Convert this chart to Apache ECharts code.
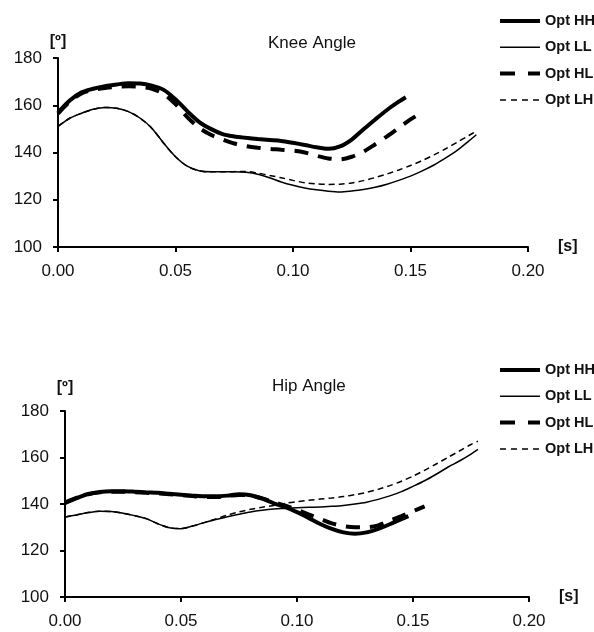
<!DOCTYPE html>
<html>
<head>
<meta charset="utf-8">
<script src="https://cdn.jsdelivr.net/npm/echarts@6/dist/echarts.min.js"></script>
<style>html,body{margin:0;padding:0;background:#fff;}#c{width:594px;height:632px;}</style>
</head>
<body>
<div id="c"></div>
<script>
// ---- Data (time [s], angle [deg]) ----
const seriesNames = ['Opt HH', 'Opt LL', 'Opt HL', 'Opt LH'];
const xTicks = [0, 0.05, 0.10, 0.15, 0.20];
const yTicks = [100, 120, 140, 160, 180];

const kneeHH = [[0,156.9],[0.005,162],[0.01,165.5],[0.015,167],[0.02,168.1],[0.025,168.8],[0.03,169.3],[0.035,169.2],[0.04,168.3],[0.045,166.5],[0.05,162.5],[0.055,157.5],[0.06,153],[0.065,150],[0.07,147.8],[0.075,146.8],[0.08,146.2],[0.085,145.7],[0.09,145.3],[0.095,144.9],[0.1,144.1],[0.105,143.2],[0.11,142.2],[0.115,141.6],[0.12,142.6],[0.125,145.5],[0.13,149.8],[0.135,154],[0.14,158],[0.145,161.5],[0.148,163.4]];
const kneeLL = [[0,151],[0.005,154.5],[0.01,156.6],[0.015,158.3],[0.02,159.1],[0.025,158.7],[0.03,157.3],[0.035,154.5],[0.04,150.2],[0.045,143.9],[0.05,138.2],[0.055,134.2],[0.06,132.3],[0.065,131.8],[0.07,131.8],[0.075,131.8],[0.08,131.6],[0.085,130.8],[0.09,129.3],[0.095,127.5],[0.1,126.1],[0.105,125],[0.11,124.2],[0.115,123.6],[0.12,123.3],[0.125,123.7],[0.13,124.3],[0.135,125.3],[0.14,126.6],[0.145,128.2],[0.15,130],[0.155,132.2],[0.16,134.7],[0.165,137.7],[0.17,141],[0.175,145],[0.178,147.5]];
const kneeHL = [[0,156.5],[0.005,161.5],[0.01,165],[0.015,166.5],[0.02,167.3],[0.025,167.8],[0.03,168],[0.035,167.8],[0.04,167],[0.045,164.8],[0.05,160.5],[0.055,155],[0.06,150.5],[0.065,147.5],[0.07,145.5],[0.075,143.8],[0.08,142.7],[0.085,142],[0.09,141.5],[0.095,141.2],[0.1,140.8],[0.105,140],[0.11,138.6],[0.115,137.5],[0.12,137.1],[0.125,138.2],[0.13,140.4],[0.135,143.5],[0.14,146.8],[0.145,150.4],[0.15,154],[0.155,157]];
const kneeLH = [[0,151],[0.005,154.5],[0.01,156.6],[0.015,158.3],[0.02,159.1],[0.025,158.7],[0.03,157.3],[0.035,154.5],[0.04,150.2],[0.045,143.9],[0.05,138.2],[0.055,134.2],[0.06,132.3],[0.065,131.8],[0.07,131.8],[0.075,131.9],[0.08,132],[0.085,131.3],[0.09,130.3],[0.095,129.3],[0.1,128.2],[0.105,127.2],[0.11,126.7],[0.115,126.5],[0.12,126.6],[0.125,127.1],[0.13,128.1],[0.135,129.4],[0.14,130.9],[0.145,132.6],[0.15,134.5],[0.155,136.6],[0.16,139],[0.165,141.6],[0.17,144.4],[0.175,147.3],[0.178,149]];

const hipHH = [[0,140.4],[0.005,142.5],[0.01,144.3],[0.015,145.2],[0.02,145.5],[0.025,145.5],[0.03,145.3],[0.035,145],[0.04,144.8],[0.045,144.4],[0.05,144],[0.055,143.6],[0.06,143.3],[0.065,143.3],[0.07,143.6],[0.075,144.2],[0.08,143.8],[0.085,142.3],[0.09,140.3],[0.095,138.6],[0.1,136.5],[0.105,134],[0.11,131.4],[0.115,129.3],[0.12,127.8],[0.125,127.2],[0.13,127.8],[0.135,129.3],[0.14,131.3],[0.145,133.5],[0.148,134.8]];
const hipLL = [[0,134.4],[0.005,135.3],[0.01,136.3],[0.015,136.9],[0.02,136.8],[0.025,136],[0.03,135],[0.035,133.7],[0.04,131.5],[0.045,129.8],[0.05,129.4],[0.055,130.5],[0.06,132],[0.065,133.3],[0.07,134.5],[0.075,135.6],[0.08,136.6],[0.085,137.3],[0.09,137.8],[0.095,138.1],[0.1,138.4],[0.105,138.6],[0.11,138.7],[0.115,139],[0.12,139.4],[0.125,140],[0.13,140.8],[0.135,142],[0.14,143.5],[0.145,145.3],[0.15,147.6],[0.155,150],[0.16,152.8],[0.165,155.8],[0.17,158.5],[0.175,161.5],[0.178,163.5]];
const hipHL = [[0,140.6],[0.005,142.6],[0.01,144.2],[0.015,145],[0.02,145.3],[0.025,145.3],[0.03,145.1],[0.035,144.8],[0.04,144.5],[0.045,144.2],[0.05,143.8],[0.055,143.4],[0.06,143],[0.065,143],[0.07,143.4],[0.075,143.9],[0.08,143.6],[0.085,142.4],[0.09,140.8],[0.095,139.3],[0.1,137.5],[0.105,135.5],[0.11,133.6],[0.115,131.7],[0.12,130.5],[0.125,130],[0.13,130],[0.135,130.8],[0.14,132.8],[0.145,134.8],[0.15,136.9],[0.155,139]];
const hipLH = [[0,134.4],[0.005,135.3],[0.01,136.3],[0.015,136.9],[0.02,136.8],[0.025,136],[0.03,135],[0.035,133.7],[0.04,131.5],[0.045,129.8],[0.05,129.4],[0.055,130.5],[0.06,132],[0.065,133.6],[0.07,135.2],[0.075,136.6],[0.08,137.7],[0.085,138.6],[0.09,139.4],[0.095,140.3],[0.1,141],[0.105,141.6],[0.11,142.1],[0.115,142.6],[0.12,143.2],[0.125,144],[0.13,145],[0.135,146.3],[0.14,147.9],[0.145,149.8],[0.15,152],[0.155,154.5],[0.16,157.2],[0.165,160],[0.17,162.8],[0.175,165.6],[0.178,167]];

// ---- Styles ----
const styles = {
  'Opt HH': { width: 4, type: 'solid', legendType: 'solid' },
  'Opt LL': { width: 1.5, type: 'solid', legendType: 'solid' },
  'Opt HL': { width: 4, type: [14, 10], legendType: [15, 13] },
  'Opt LH': { width: 1.5, type: [6, 4], legendType: [6, 5] }
};
const FONT = 'Liberation Sans, Arial, sans-serif';
const TXT = '#111';

function mkX(gi, nameGap) {
  return {
    type: 'value', gridIndex: gi, min: 0, max: 0.2, interval: 0.05,
    name: '[s]', nameLocation: 'end', nameGap: nameGap,
    nameTextStyle: { fontFamily: FONT, fontSize: 16, fontWeight: 'bold', color: TXT, verticalAlign: 'middle' },
    axisLine: { show: true, onZero: false, lineStyle: { color: '#000', width: 2 } },
    axisTick: { show: true, inside: false, length: 5, lineStyle: { color: '#000', width: 2 } },
    axisLabel: { margin: 16, fontFamily: FONT, fontSize: 17, color: TXT, formatter: v => v.toFixed(2) },
    splitLine: { show: false }
  };
}
function mkY(gi, nameGap) {
  return {
    type: 'value', gridIndex: gi, min: 100, max: 180, interval: 20,
    name: '[º]', nameLocation: 'end', nameGap: nameGap,
    nameTextStyle: { fontFamily: FONT, fontSize: 16, fontWeight: 'bold', color: TXT, align: 'center' },
    axisLine: { show: true, lineStyle: { color: '#000', width: 2 } },
    axisTick: { show: true, inside: false, length: 5, lineStyle: { color: '#000', width: 2 } },
    axisLabel: { margin: 16, fontFamily: FONT, fontSize: 17, color: TXT },
    splitLine: { show: false }
  };
}
function mkSeries(name, data, gi) {
  return {
    name: name, type: 'line', xAxisIndex: gi, yAxisIndex: gi, data: data,
    showSymbol: false, symbol: 'none', smooth: 0.3, animation: false,
    lineStyle: { color: '#000', width: styles[name].width, type: styles[name].type, cap: 'butt' },
    itemStyle: { color: '#000' }
  };
}
function mkLegend(top) {
  return {
    orient: 'vertical', left: 498, top: top, padding: 0, itemWidth: 40, itemHeight: 14, itemGap: 10.3,
    selectedMode: false,
    data: seriesNames.map(n => ({
      name: n,
      lineStyle: { width: styles[n].width, type: styles[n].legendType, color: '#000', cap: 'butt' }
    })),
    itemStyle: { opacity: 0, borderWidth: 0 },
    textStyle: { fontFamily: FONT, fontSize: 14.5, fontWeight: 'bold', color: TXT, lineHeight: 16 }
  };
}

const chart = echarts.init(document.getElementById('c'), null, { renderer: 'canvas' });
chart.setOption({
  backgroundColor: '#fff',
  animation: false,
  title: [
    { text: 'Knee Angle', left: 263, top: 30, textStyle: { fontFamily: FONT, fontSize: 17, fontWeight: 'normal', color: TXT } },
    { text: 'Hip Angle', left: 267, top: 373, textStyle: { fontFamily: FONT, fontSize: 17, fontWeight: 'normal', color: TXT } }
  ],
  legend: [mkLegend(13), mkLegend(362)],
  grid: [
    { left: 58, top: 58, width: 470, height: 189 },
    { left: 65, top: 411, width: 464, height: 186 }
  ],
  xAxis: [mkX(0, 30), mkX(1, 30)],
  yAxis: [mkY(0, 8), mkY(1, 15)],
  series: [
    mkSeries('Opt HH', kneeHH, 0), mkSeries('Opt LL', kneeLL, 0), mkSeries('Opt HL', kneeHL, 0), mkSeries('Opt LH', kneeLH, 0),
    mkSeries('Opt HH', hipHH, 1), mkSeries('Opt LL', hipLL, 1), mkSeries('Opt HL', hipHL, 1), mkSeries('Opt LH', hipLH, 1)
  ]
});
</script>
</body>
</html>
